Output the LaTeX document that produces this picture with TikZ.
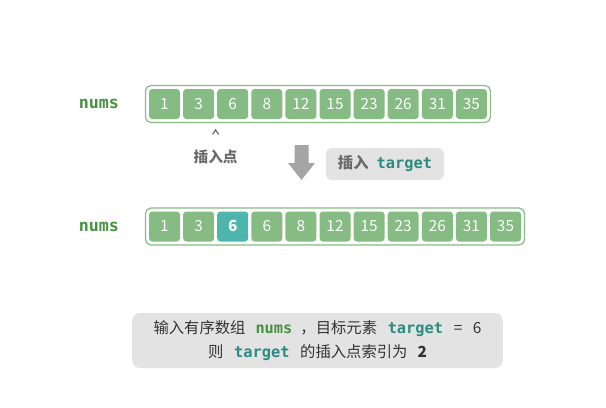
\documentclass[tikz,border=0pt]{standalone}
\usepackage{fontspec}
\setmainfont{Noto Sans CJK SC}
\setmonofont{DejaVu Sans Mono}
\usetikzlibrary{positioning,arrows.meta,fit}

\definecolor{cellgreen}{HTML}{86BC84}
\definecolor{cellteal}{HTML}{4DB6AC}
\definecolor{numsgreen}{HTML}{45923F}
\definecolor{tgtteal}{HTML}{2A8C80}
\definecolor{boxgray}{HTML}{E3E3E3}
\definecolor{arrgray}{HTML}{A5A5A5}
\definecolor{txtgray}{HTML}{6A6A6A}
\definecolor{txtdark}{HTML}{333333}

\tikzset{
  cell/.style={fill=cellgreen, text=white, rounded corners=2.5pt,
    minimum width=23.25pt, minimum height=22.5pt, inner sep=0pt,
    text height=8.2pt, text depth=0pt,
    font=\fontsize{11.5}{12}\selectfont},
  hicell/.style={cell, fill=cellteal, font=\fontsize{11.5}{12}\selectfont\bfseries},
  arrbox/.style={draw=cellgreen, line width=0.9pt, fill=white,
    rounded corners=4pt, inner sep=2.4pt},
  varname/.style={text=numsgreen, font=\fontsize{12.5}{14}\selectfont\ttfamily\bfseries},
  note/.style={fill=boxgray, rounded corners=6pt, align=center, text=txtdark,
    font=\fontsize{11.5}{18}\selectfont},
}
\newcommand{\vn}[1]{{\ttfamily\bfseries\fontsize{11.5}{18}\selectfont\color{numsgreen}#1}}
\newcommand{\tg}[1]{{\ttfamily\bfseries\fontsize{11.5}{18}\selectfont\color{tgtteal}#1}}

\begin{document}
\begin{tikzpicture}[x=0.75pt, y=-0.75pt]

\useasboundingbox (0,0) rectangle (606,407);

%% array before insertion
\foreach \v [count=\i from 0] in {1,3,6,8,12,15,23,26,31,35}{
  \node[cell] (t\i) at ({164.5+34.1*\i}, 104) {\v};
}
\node[arrbox, fit=(t0)(t9)] (tbox) {};
\foreach \v [count=\i from 0] in {1,3,6,8,12,15,23,26,31,35}{
  \node[cell] at (t\i) {\v};
}
\node[varname, left=16pt of tbox] (tlab) {nums};

%% insertion point
\coordinate (cpt) at (215.6, 130);
\draw[txtgray, line width=0.9pt, line join=miter]
  ([xshift=-2.3pt, yshift=-3.3pt]cpt) -- (cpt) -- ([xshift=2.3pt, yshift=-3.3pt]cpt);
\node[text=txtgray, font=\fontsize{11}{13}\selectfont\bfseries] (ins) at (215.6, 157) {插入点};

%% down arrow
\coordinate (dn) at (301.5, 145);
\fill[arrgray] ([xshift=-5.25pt]dn) -- ([xshift=5.25pt]dn)
  -- ([xshift=5.25pt, yshift=-13.5pt]dn) -- ([xshift=10.1pt, yshift=-13.5pt]dn)
  -- ([yshift=-26.25pt]dn) -- ([xshift=-10.1pt, yshift=-13.5pt]dn)
  -- ([xshift=-5.25pt, yshift=-13.5pt]dn) -- cycle;
\node[fill=boxgray, rounded corners=4pt, minimum width=88.5pt, minimum height=24pt,
      font=\fontsize{11.5}{13}\selectfont] (step1) at (385, 164)
  {{\bfseries\color{txtgray}插入}\hspace{6pt}\tg{target}};

%% array after insertion
\foreach \v/\st [count=\i from 0] in {1/cell,3/cell,6/hicell,6/cell,8/cell,12/cell,
    15/cell,23/cell,26/cell,31/cell,35/cell}{
  \node[\st] (b\i) at ({164.5+34.1*\i}, 226.5) {\v};
}
\node[arrbox, fit=(b0)(b10)] (bbox) {};
\foreach \v/\st [count=\i from 0] in {1/cell,3/cell,6/hicell,6/cell,8/cell,12/cell,
    15/cell,23/cell,26/cell,31/cell,35/cell}{
  \node[\st] at (b\i) {\v};
}
\node[varname, left=16pt of bbox] (blab) {nums};

%% note
\node[note, minimum width=278pt, minimum height=41.25pt] (res) at (317.5, 340.5)
  {输入有序数组\hspace{7.5pt}\vn{nums}\hspace{6pt}，目标元素\hspace{8pt}\tg{target}\hspace{8pt}=\hspace{8pt}6\\
   则\hspace{8pt}\tg{target}\hspace{8pt}的插入点索引为\hspace{7.5pt}\textbf{2}};

\end{tikzpicture}
\end{document}
